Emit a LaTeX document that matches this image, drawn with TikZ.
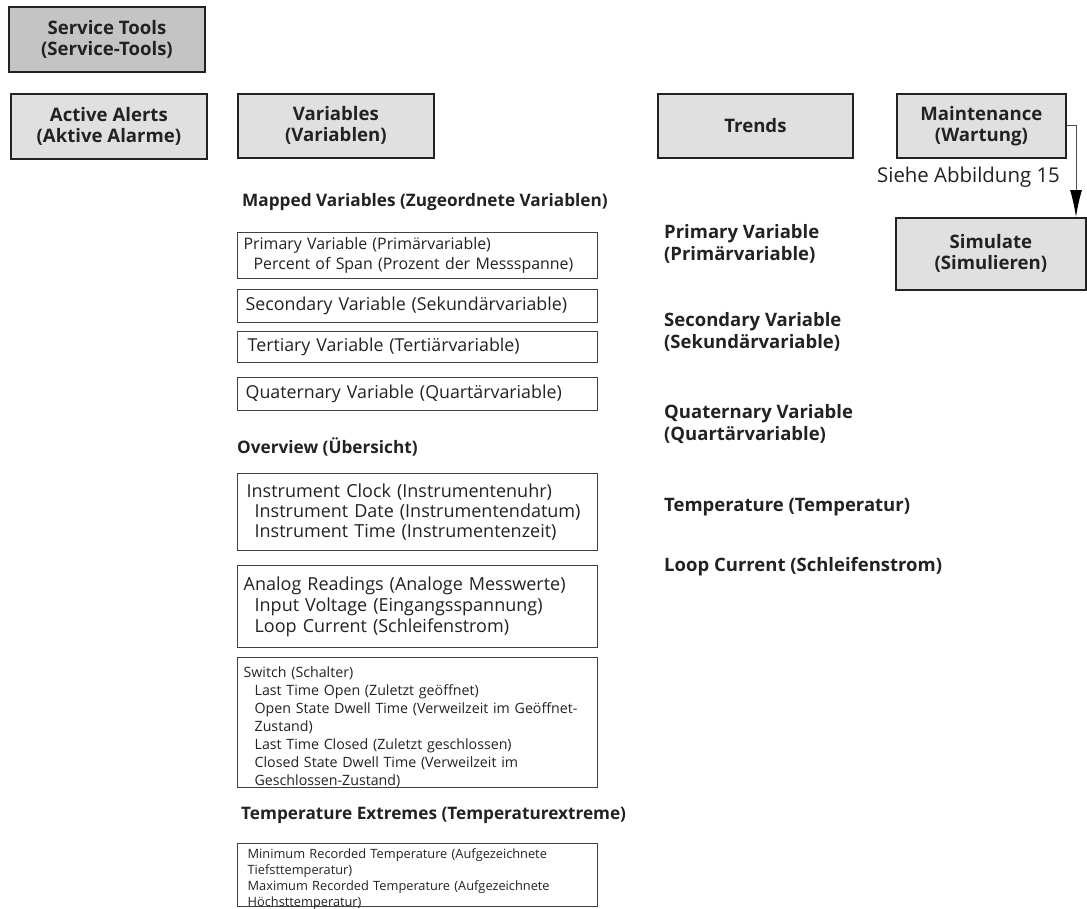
\documentclass[tikz,border=0pt]{standalone}
\usepackage{fontspec}
\setmainfont{Open Sans}
\usetikzlibrary{arrows.meta}
\definecolor{menugray}{HTML}{E0E0E0}
\definecolor{topgray}{HTML}{C4C4C4}
\definecolor{inkgray}{HTML}{222222}
\tikzset{
  menubox/.style={draw=inkgray, line width=1.8pt, fill=menugray, anchor=north west,
    align=center, inner sep=0pt, text=inkgray,
    font=\bfseries\fontsize{18.6}{21}\selectfont},
  listbox/.style={draw=black!75, line width=1.3pt, anchor=north west, inner xsep=6pt,
    inner ysep=0pt, minimum width=360pt, text width=348pt, align=left, text=inkgray},
  heading/.style={anchor=west, inner sep=0pt, text=inkgray,
    font=\bfseries\fontsize{17.2}{20}\selectfont},
  trend/.style={anchor=west, inner sep=0pt, align=left, text=inkgray,
    font=\bfseries\fontsize{18.5}{22}\selectfont},
}
\begin{document}
\begin{tikzpicture}[x=1pt,y=-1pt]
  \useasboundingbox (0,0) rectangle (1087,908);
  % top level menus
  \node[menubox, fill=topgray, minimum width=196pt, minimum height=65pt] (service) at (8,6)
    {Service Tools\\(Service-Tools)};
  \node[menubox, minimum width=196pt, minimum height=65pt] (alerts) at (10,93)
    {Active Alerts\\(Aktive Alarme)};
  \node[menubox, minimum width=196pt, minimum height=64pt] (variables) at (237,93)
    {Variables\\(Variablen)};
  \node[menubox, minimum width=195pt, minimum height=64pt] (trends) at (657,93) {Trends};
  \node[menubox, minimum width=169pt, minimum height=64pt] (maint) at (896,93)
    {Maintenance\\(Wartung)};
  \node[menubox, minimum width=190pt, minimum height=72pt] (simulate) at (895,217)
    {Simulate\\(Simulieren)};

  % link to simulate
  \coordinate (simtop) at (1076,217);
  \draw[black!70, line width=1pt, -{Latex[length=27pt,width=12pt,black]}] (maint.east) -| (simtop);
  \node[anchor=east, inner sep=0pt, text=inkgray, font=\fontsize{20.4}{24}\selectfont] (seefig)
    at (1060,177) {Siehe Abbildung 15};

  % variables
  \node[heading] (mapped) at (242,202) {Mapped Variables (Zugeordnete Variablen)};
  \node[listbox, minimum height=46pt, font=\fontsize{15.9}{20}\selectfont] (primary) at (237,232)
    {Primary Variable (Primärvariable)\\\hspace*{10pt}Percent of Span (Prozent der Messspanne)};
  \node[listbox, minimum height=33pt, font=\fontsize{17.8}{20}\selectfont] (secondary) at (237,289)
    {\hspace*{2pt}Secondary Variable (Sekundärvariable)};
  \node[listbox, minimum height=31pt, font=\fontsize{17.8}{20}\selectfont] (tertiary) at (237,331)
    {\hspace*{4pt}Tertiary Variable (Tertiärvariable)};
  \node[listbox, minimum height=33pt, font=\fontsize{17.8}{20}\selectfont] (quaternary) at (237,377)
    {\hspace*{2pt}Quaternary Variable (Quartärvariable)};

  \node[heading] (overview) at (237,447) {Overview (Übersicht)};
  \node[listbox, minimum height=77pt, font=\fontsize{18}{20}\selectfont] (clock) at (237,473)
    {\hspace*{3pt}Instrument Clock (Instrumentenuhr)\\\hspace*{11pt}Instrument Date (Instrumentendatum)\\\hspace*{11pt}Instrument Time (Instrumentenzeit)};
  \node[listbox, minimum height=82pt, font=\fontsize{18}{21}\selectfont] (analog) at (237,565)
    {Analog Readings (Analoge Messwerte)\\\hspace*{11pt}Input Voltage (Eingangsspannung)\\\hspace*{11pt}Loop Current (Schleifenstrom)};
  \node[listbox, minimum height=130pt, font=\fontsize{14.2}{18}\selectfont] (switch) at (237,657)
    {Switch (Schalter)\\
     \hspace*{11pt}Last Time Open (Zuletzt geöffnet)\\
     \hspace*{11pt}Open State Dwell Time (Verweilzeit im Geöffnet-\\
     \hspace*{11pt}Zustand)\\
     \hspace*{11pt}Last Time Closed (Zuletzt geschlossen)\\
     \hspace*{11pt}Closed State Dwell Time (Verweilzeit im\\
     \hspace*{11pt}Geschlossen-Zustand)\par\vspace*{-10pt}};

  \node[heading] (extremes) at (241,815) {Temperature Extremes (Temperaturextreme)};
  \node[listbox, minimum height=63pt, font=\fontsize{12.8}{16}\selectfont] (extremebox) at (237,843)
    {\hspace*{4pt}Minimum Recorded Temperature (Aufgezeichnete\\
     \hspace*{4pt}Tiefsttemperatur)\\
     \hspace*{4pt}Maximum Recorded Temperature (Aufgezeichnete\\
     \hspace*{4pt}Höchsttemperatur)\par\vspace*{-7pt}};

  % trends
  \node[trend] (trprimary) at (664,244) {Primary Variable\\(Primärvariable)};
  \node[trend] (trsecondary) at (664,332) {Secondary Variable\\(Sekundärvariable)};
  \node[trend] (trquaternary) at (664,424.5) {Quaternary Variable\\(Quartärvariable)};
  \node[trend] (trtemp) at (664,507) {Temperature (Temperatur)};
  \node[trend] (trloop) at (664,567) {Loop Current (Schleifenstrom)};
\end{tikzpicture}
\end{document}
